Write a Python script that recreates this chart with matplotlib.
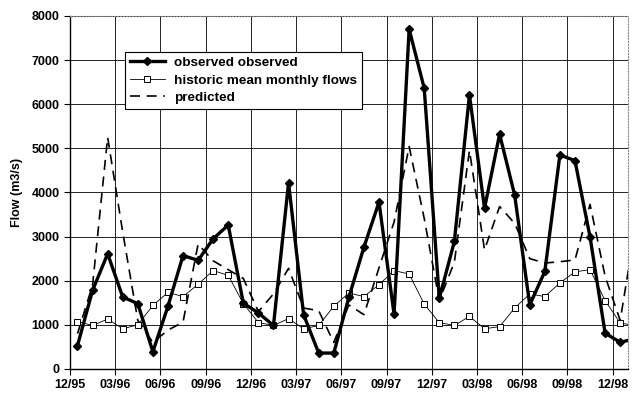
import matplotlib.pyplot as plt
import numpy as np

plt.rcParams['font.family'] = ['Liberation Sans', 'DejaVu Sans']

# Data (monthly, starting Dec 1995; last value falls past the axis edge)
observed = [530, 1780, 2610, 1630, 1480, 390, 1420, 2570, 2460, 2950, 3260, 1490,
            1270, 985, 4220, 1230, 360, 360, 1620, 2760, 3780, 1240, 7700, 6360,
            1600, 2890, 6210, 3640, 5320, 3940, 1450, 2210, 4850, 4720, 2990, 810,
            605, 685]
historic = [1075, 985, 1130, 910, 1000, 1440, 1735, 1640, 1920, 2230, 2120, 1480,
            1050, 985, 1140, 910, 985, 1420, 1720, 1640, 1910, 2230, 2150, 1470,
            1050, 985, 1190, 910, 960, 1380, 1700, 1640, 1950, 2200, 2250, 1550,
            1040, 985]
predicted = [800, 1900, 5250, 3100, 1100, 600, 880, 1060, 2830, 2450, 2250, 2050,
             1300, 1700, 2280, 1380, 1320, 600, 1450, 1230, 2290, 3330, 5040, 3410,
             1550, 2420, 4950, 2700, 3680, 3300, 2500, 2400, 2430, 2470, 3730, 2100,
             1100, 3200]
tick_labels = ['12/95', '03/96', '06/96', '09/96', '12/96', '03/97', '06/97',
               '09/97', '12/97', '03/98', '06/98', '09/98', '12/98']

x = np.arange(len(observed)) + 0.5

fig = plt.figure(figsize=(6.36, 3.98), dpi=100)
ax = fig.add_axes([0.110, 0.073, 0.877, 0.887])

ax.plot(x, observed, color='black', lw=2.4, marker='D', ms=4.2,
        label='observed observed', zorder=4)
ax.plot(x, historic, color='black', lw=0.6, marker='s', ms=4.6,
        mfc='white', mec='black', mew=0.7, label='historic mean monthly flows', zorder=3)
ax.plot(x, predicted, color='black', lw=1.2, dashes=(6, 4),
        label='predicted', zorder=2)

ax.set_xlim(0, 37)
ax.set_ylim(0, 8000)
ax.set_xticks(np.arange(0, 37, 3))
ax.set_xticklabels(tick_labels)
ax.set_yticks(np.arange(0, 8001, 1000))
ax.tick_params(labelsize=9, length=4, width=0.8, color='black')
for lab in ax.get_xticklabels() + ax.get_yticklabels():
    lab.set_fontweight('bold')

ax.grid(True, color='#222222', lw=0.7)
ax.set_axisbelow(True)
for side in ['top', 'right']:
    ax.spines[side].set_color('#888888')
    ax.spines[side].set_linestyle(':')
for side in ['left', 'bottom']:
    ax.spines[side].set_linewidth(1.0)

ax.set_ylabel('Flow (m3/s)', fontsize=9, fontweight='bold', labelpad=6)

leg = ax.legend(loc='upper left', bbox_to_anchor=(0.0986, 0.898), borderaxespad=0,
                fancybox=False, framealpha=1, edgecolor='black',
                handlelength=2.6, handletextpad=0.7,
                prop={'weight': 'bold', 'size': 9.7},
                labelspacing=0.38, borderpad=0.35)
leg.get_frame().set_linewidth(0.8)

plt.savefig('out.png', dpi=100)
